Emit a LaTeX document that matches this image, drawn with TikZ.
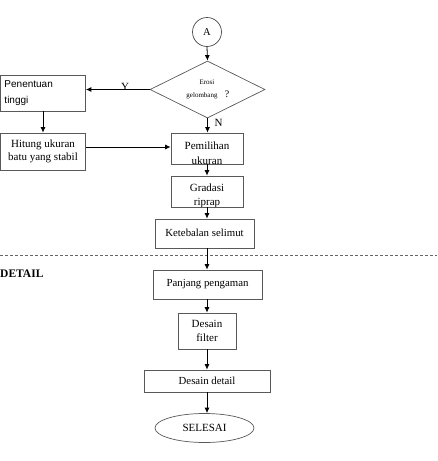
\documentclass[tikz,border=0pt]{standalone}
\usepackage{fontspec}
\setmainfont{Liberation Serif}
\newfontfamily\arialfont{Liberation Sans}
\usetikzlibrary{shapes.geometric,arrows.meta}
\begin{document}
\begin{tikzpicture}[x=1pt,y=-1pt,
  box/.style={draw=black!65, line width=0.7pt, rectangle, inner sep=0pt, align=center,
    font=\fontsize{10.8}{13.5}\selectfont},
  arr/.style={-{Latex[length=5.5pt,width=5pt]}, line width=0.8pt},
  lbl/.style={font=\fontsize{11}{12}\selectfont, inner sep=0pt}
]
\useasboundingbox (0,0) rectangle (437,461);

% start connector
\node[draw=black!70, line width=0.7pt, circle, minimum size=29pt, inner sep=0pt, font=\fontsize{10.5}{12}\selectfont] (A) at (207,32) {A};

% decision
\node[draw=black!65, line width=0.7pt, diamond, minimum width=115pt, minimum height=57pt, inner sep=0pt] (D) at (207.5,89.5) {};
\node[font=\fontsize{7}{8}\selectfont, inner sep=0pt] (Dt1) at (207,82) {Erosi};
\node[font=\fontsize{7}{8}\selectfont, inner sep=0pt] (Dt2) at (202,96) {gelombang};
\node[font=\fontsize{10}{11}\selectfont, inner sep=0pt] (Dt3) at (227,94.5) {?};

% left branch
\node[box, minimum width=85pt, minimum height=36pt, text width=77pt, align=left,
  font=\arialfont\fontsize{10}{17}\selectfont] (pen) at (43,93) {\raisebox{-1.5pt}{Penentuan}\\tinggi};
\node[box, minimum width=85pt, minimum height=37pt, font=\fontsize{11}{13}\selectfont] (hit) at (43,151.5)
  {Hitung ukuran\\batu yang stabil};

% main column
\node[box, minimum width=72pt, minimum height=31pt,
  path picture={\node[font=\fontsize{11}{14.5}\selectfont, align=center, inner sep=0pt]
    at ([yshift=-4.5pt]path picture bounding box.center) {Pemilihan\\ukuran};}] (pem) at (207,148.5) {};
\node[box, minimum width=72pt, minimum height=31pt,
  path picture={\node[font=\fontsize{11}{14.5}\selectfont, align=center, inner sep=0pt]
    at ([yshift=-4.5pt]path picture bounding box.center) {Gradasi\\riprap};}] (gra) at (207,191.5) {};
\node[box, minimum width=99pt, minimum height=29pt] (ket) at (204.5,233.5) {\raisebox{1.5pt}{Ketebalan selimut}};
\node[box, minimum width=109pt, minimum height=29pt] (pan) at (207.5,284.5) {\raisebox{1.5pt}{Panjang pengaman}};
\node[box, minimum width=58pt, minimum height=36pt, font=\fontsize{11}{14}\selectfont] (fil) at (207,331) {Desain\\filter};
\node[box, minimum width=126pt, minimum height=22pt] (det) at (207,381) {Desain detail};
\node[draw=black!65, line width=0.7pt, ellipse, minimum width=99pt, minimum height=29pt,
  inner sep=0pt, font=\fontsize{11}{12}\selectfont] (sel) at (204.5,428) {SELESAI};

% dashed separator and section label
\draw[black!60, line width=0.6pt, dash pattern=on 3pt off 2pt] (0,255) -- (437,255);
\node[anchor=west, inner sep=0pt, font=\bfseries\fontsize{11.5}{12}\selectfont] (detl) at (0,274) {DETAIL};

% connectors
\draw[arr] (A.south) -- (D.north);
\draw[arr] (D.west) -- (D.west -| pen.east);
\node[lbl] (Y) at (125,86.5) {Y};
\draw[arr] (D.south) -- (D.south |- pem.north);
\node[lbl] (N) at (218.5,123) {N};
\draw[arr] (pen.south) -- (hit.north);
\draw[arr] ([yshift=4.5pt]hit.east) -- ([yshift=4.5pt]hit.east -| pem.west);
\draw[arr] (pem.south) -- (gra.north);
\draw[arr] (gra.south) -- (gra.south |- ket.north);
\draw[arr] (gra.south |- ket.south) -- (gra.south |- pan.north);
\draw[arr] (gra.south |- pan.south) -- (gra.south |- fil.north);
\draw[arr] (fil.south) -- (det.north);
\draw[arr] (det.south) -- (det.south |- sel.north);
\end{tikzpicture}
\end{document}
